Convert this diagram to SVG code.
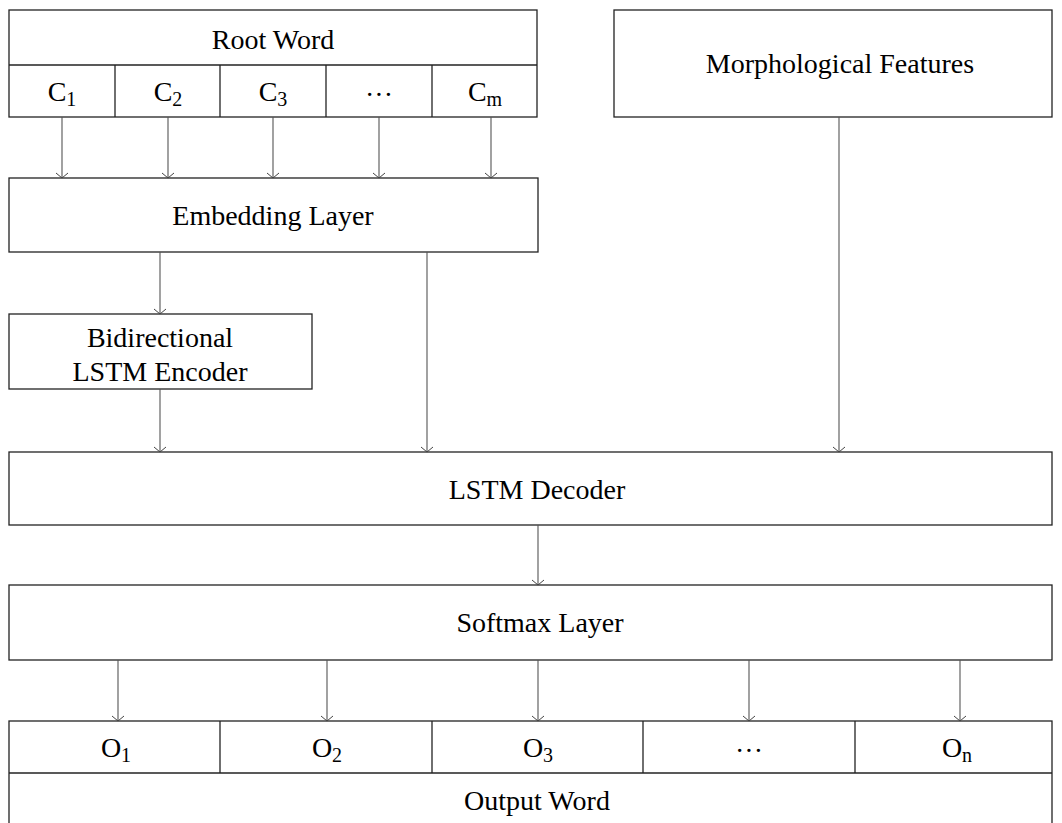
<svg xmlns="http://www.w3.org/2000/svg" width="1062" height="823" viewBox="0 0 1062 823">
<defs>
<marker id="arr" markerWidth="14" markerHeight="10" refX="7" refY="7" orient="0" markerUnits="userSpaceOnUse">
<path d="M1,2 L7,7 L13,2" fill="none" stroke="#444" stroke-width="1"/>
</marker>
<style>
.box{fill:#fff;stroke:#222;stroke-width:1.3}
.t{font-family:"Liberation Serif","Times New Roman",serif;font-size:28px;fill:#000;text-anchor:middle}
.s{font-size:20px}
.c{stroke:#555;stroke-width:1.1;fill:none}
</style>
</defs>
<rect width="1062" height="823" fill="#fff"/>
<g id="root-word">
<rect class="box" x="9" y="10" width="528" height="107"/>
<line class="box" x1="9" y1="65" x2="537" y2="65"/>
<line class="box" x1="115" y1="65" x2="115" y2="117"/>
<line class="box" x1="220" y1="65" x2="220" y2="117"/>
<line class="box" x1="326" y1="65" x2="326" y2="117"/>
<line class="box" x1="432" y1="65" x2="432" y2="117"/>
<text class="t" x="273" y="49">Root Word</text>
<text class="t" x="62" y="101">C<tspan class="s" dy="5">1</tspan></text>
<text class="t" x="168" y="101">C<tspan class="s" dy="5">2</tspan></text>
<text class="t" x="273" y="101">C<tspan class="s" dy="5">3</tspan></text>
<text class="t" x="379" y="104">···</text>
<text class="t" x="485" y="101">C<tspan class="s" dy="5">m</tspan></text>
</g>
<g id="morph-features">
<rect class="box" x="614" y="10" width="438" height="107"/>
<text class="t" x="840" y="73">Morphological Features</text>
</g>
<g id="embedding">
<rect class="box" x="9" y="178" width="529" height="74"/>
<text class="t" x="273" y="225">Embedding Layer</text>
</g>
<g id="bilstm">
<rect class="box" x="9" y="314" width="303" height="75"/>
<text class="t" x="160" y="347">Bidirectional</text>
<text class="t" x="160" y="381">LSTM Encoder</text>
</g>
<g id="decoder">
<rect class="box" x="9" y="452" width="1043" height="73"/>
<text class="t" x="537" y="499">LSTM Decoder</text>
</g>
<g id="softmax">
<rect class="box" x="9" y="585" width="1043" height="75"/>
<text class="t" x="540" y="632">Softmax Layer</text>
</g>
<g id="output-word">
<rect class="box" x="9" y="721" width="1043" height="110"/>
<line class="box" x1="9" y1="773" x2="1052" y2="773"/>
<line class="box" x1="220" y1="721" x2="220" y2="773"/>
<line class="box" x1="432" y1="721" x2="432" y2="773"/>
<line class="box" x1="643" y1="721" x2="643" y2="773"/>
<line class="box" x1="855" y1="721" x2="855" y2="773"/>
<text class="t" x="116" y="757">O<tspan class="s" dy="5">1</tspan></text>
<text class="t" x="327" y="757">O<tspan class="s" dy="5">2</tspan></text>
<text class="t" x="538" y="757">O<tspan class="s" dy="5">3</tspan></text>
<text class="t" x="749" y="760">···</text>
<text class="t" x="957" y="757">O<tspan class="s" dy="5">n</tspan></text>
<text class="t" x="537" y="810">Output Word</text>
</g>
<g id="connectors">
<line class="c" x1="62" y1="117" x2="62" y2="178" marker-end="url(#arr)"/>
<line class="c" x1="168" y1="117" x2="168" y2="178" marker-end="url(#arr)"/>
<line class="c" x1="273" y1="117" x2="273" y2="178" marker-end="url(#arr)"/>
<line class="c" x1="379" y1="117" x2="379" y2="178" marker-end="url(#arr)"/>
<line class="c" x1="491" y1="117" x2="491" y2="178" marker-end="url(#arr)"/>
<line class="c" x1="160" y1="252" x2="160" y2="314" marker-end="url(#arr)"/>
<line class="c" x1="427" y1="252" x2="427" y2="452" marker-end="url(#arr)"/>
<line class="c" x1="160" y1="389" x2="160" y2="452" marker-end="url(#arr)"/>
<line class="c" x1="839" y1="117" x2="839" y2="452" marker-end="url(#arr)"/>
<line class="c" x1="538" y1="525" x2="538" y2="585" marker-end="url(#arr)"/>
<line class="c" x1="118" y1="660" x2="118" y2="721" marker-end="url(#arr)"/>
<line class="c" x1="327" y1="660" x2="327" y2="721" marker-end="url(#arr)"/>
<line class="c" x1="538" y1="660" x2="538" y2="721" marker-end="url(#arr)"/>
<line class="c" x1="749" y1="660" x2="749" y2="721" marker-end="url(#arr)"/>
<line class="c" x1="960" y1="660" x2="960" y2="721" marker-end="url(#arr)"/>
</g>
</svg>
